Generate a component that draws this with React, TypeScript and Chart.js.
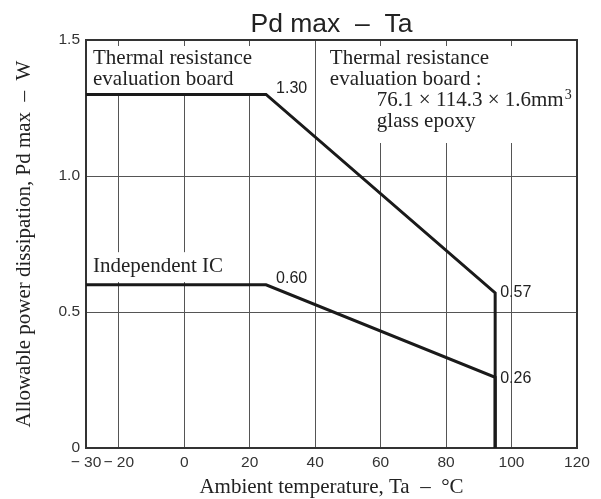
import React, { useEffect, useRef } from "react";
import { Chart, registerables } from "chart.js";

Chart.register(...registerables);

const boardTemps = [-30, 25, 95, 95];
const boardPower = [1.3, 1.3, 0.57, 0];
const icTemps = [-30, 25, 95, 95];
const icPower = [0.6, 0.6, 0.26, 0];
const xTickValues = [-30, -20, 0, 20, 40, 60, 80, 100, 120];
const yTickValues = [0, 0.5, 1.0, 1.5];

const SANS = "'Liberation Sans', Arial, sans-serif";
const SERIF = "'Liberation Serif', 'Times New Roman', serif";

const annotationPlugin = {
  id: "annotations",
  beforeDatasetsDraw(chart: any) {
    const { ctx, chartArea, scales } = chart;
    const xs = scales.x;
    const ys = scales.y;
    const L = chartArea.left;
    const R = chartArea.right;
    const T = chartArea.top;
    ctx.save();
    // white boxes behind text (interrupt grid lines)
    ctx.fillStyle = "#ffffff";
    ctx.fillRect(L + 1, T + 6, xs.getPixelForValue(35) - L - 1, 50);
    ctx.fillRect(xs.getPixelForValue(44), T + 6, R - xs.getPixelForValue(44) - 1, 97);
    ctx.fillRect(L + 1, ys.getPixelForValue(0.72), xs.getPixelForValue(15) - L, ys.getPixelForValue(0.61) - ys.getPixelForValue(0.72));

    ctx.fillStyle = "#222222";
    ctx.font = `21px ${SERIF}`;
    ctx.textAlign = "left";
    ctx.textBaseline = "alphabetic";
    ctx.fillText("Thermal resistance", L + 7, T + 24);
    ctx.fillText("evaluation board", L + 7, T + 45);
    const rx = xs.getPixelForValue(44.5);
    ctx.fillText("Thermal resistance", rx, T + 24);
    ctx.fillText("evaluation board :", rx, T + 45);
    ctx.fillText("76.1 × 114.3 × 1.6mm", rx + 47, T + 66);
    const w = ctx.measureText("76.1 × 114.3 × 1.6mm").width;
    ctx.font = `14px ${SERIF}`;
    ctx.fillText("3", rx + 47 + w + 1, T + 59);
    ctx.font = `21px ${SERIF}`;
    ctx.fillText("glass epoxy", rx + 47, T + 87);
    ctx.fillText("Independent IC", L + 7, ys.getPixelForValue(0.6) - 13);

    // value labels
    ctx.font = `16px ${SANS}`;
    ctx.textBaseline = "middle";
    ctx.fillText("1.30", xs.getPixelForValue(25) + 10, ys.getPixelForValue(1.3) - 6);
    ctx.fillText("0.60", xs.getPixelForValue(25) + 10, ys.getPixelForValue(0.6) - 6);
    ctx.fillText("0.57", xs.getPixelForValue(95) + 5, ys.getPixelForValue(0.57));
    ctx.fillText("0.26", xs.getPixelForValue(95) + 5, ys.getPixelForValue(0.26) + 1);

    // title
    const cx = (L + R) / 2;
    ctx.font = `26.5px ${SANS}`;
    ctx.textAlign = "center";
    ctx.textBaseline = "alphabetic";
    ctx.fillText("Pd max  \u2013  Ta", cx, 32);

    // axis titles
    ctx.font = `21px ${SERIF}`;
    ctx.fillText("Ambient temperature, Ta  \u2013  \u00B0C", cx, 493);
    ctx.save();
    ctx.translate(24, (T + chartArea.bottom) / 2);
    ctx.rotate(-Math.PI / 2);
    ctx.textBaseline = "middle";
    ctx.fillText("Allowable power dissipation, Pd max  \u2013  W", 0, 0);
    ctx.restore();

    // frame
    ctx.strokeStyle = "#333333";
    ctx.lineWidth = 2;
    ctx.strokeRect(L, T, R - L, chartArea.bottom - T);
    ctx.restore();
  },
};

export default function App() {
  const ref = useRef<HTMLCanvasElement | null>(null);
  useEffect(() => {
    if (!ref.current) return;
    const chart = new Chart(ref.current, {
      type: "line",
      data: {
        datasets: [
          {
            label: "Thermal resistance evaluation board",
            data: boardTemps.map((t, i) => ({ x: t, y: boardPower[i] })),
            borderColor: "#1a1a1a",
            borderWidth: 3,
            pointRadius: 0,
            tension: 0,
          },
          {
            label: "Independent IC",
            data: icTemps.map((t, i) => ({ x: t, y: icPower[i] })),
            borderColor: "#1a1a1a",
            borderWidth: 3,
            pointRadius: 0,
            tension: 0,
          },
        ],
      },
      options: {
        animation: false,
        responsive: false,
        layout: { padding: { top: 40, right: 24, left: 0, bottom: 0 } },
        plugins: { legend: { display: false }, tooltip: { enabled: false }, title: { display: false } },
        scales: {
          x: {
            type: "linear",
            min: -30,
            max: 120,
            afterFit: (s: any) => {
              s.height = 51;
            },
            afterBuildTicks: (s: any) => {
              s.ticks = xTickValues.map((v) => ({ value: v }));
            },
            grid: {
              color: (c: any) => (c.tick && (c.tick.value === -30 || c.tick.value === 120) ? "rgba(0,0,0,0)" : "#555555"),
              lineWidth: 1,
              drawTicks: false,
            },
            border: { display: false },
            ticks: {
              autoSkip: false,
              maxRotation: 0,
              padding: 5,
              color: "#333333",
              font: { family: SANS, size: 15.5 },
              callback: (v: any) => (Number(v) < 0 ? "\u2212 " + Math.abs(Number(v)) : String(v)),
            },
          },
          y: {
            type: "linear",
            min: 0,
            max: 1.5,
            afterFit: (s: any) => {
              s.width = 86;
            },
            afterBuildTicks: (s: any) => {
              s.ticks = yTickValues.map((v) => ({ value: v }));
            },
            grid: {
              color: (c: any) => (c.tick && (c.tick.value === 0 || c.tick.value === 1.5) ? "rgba(0,0,0,0)" : "#555555"),
              lineWidth: 1,
              drawTicks: false,
            },
            border: { display: false },
            ticks: {
              padding: 6,
              color: "#333333",
              font: { family: SANS, size: 15.5 },
              callback: (v: any) => (Number(v) === 0 ? "0" : Number(v).toFixed(1)),
            },
          },
        },
      },
      plugins: [annotationPlugin],
    });
    return () => chart.destroy();
  }, []);
  return (
    <div style={{ position: "fixed", left: 0, top: 0, width: 601, height: 499, background: "#fff" }}>
      <canvas ref={ref} width={601} height={499} style={{ width: 601, height: 499, display: "block" }} />
    </div>
  );
}
